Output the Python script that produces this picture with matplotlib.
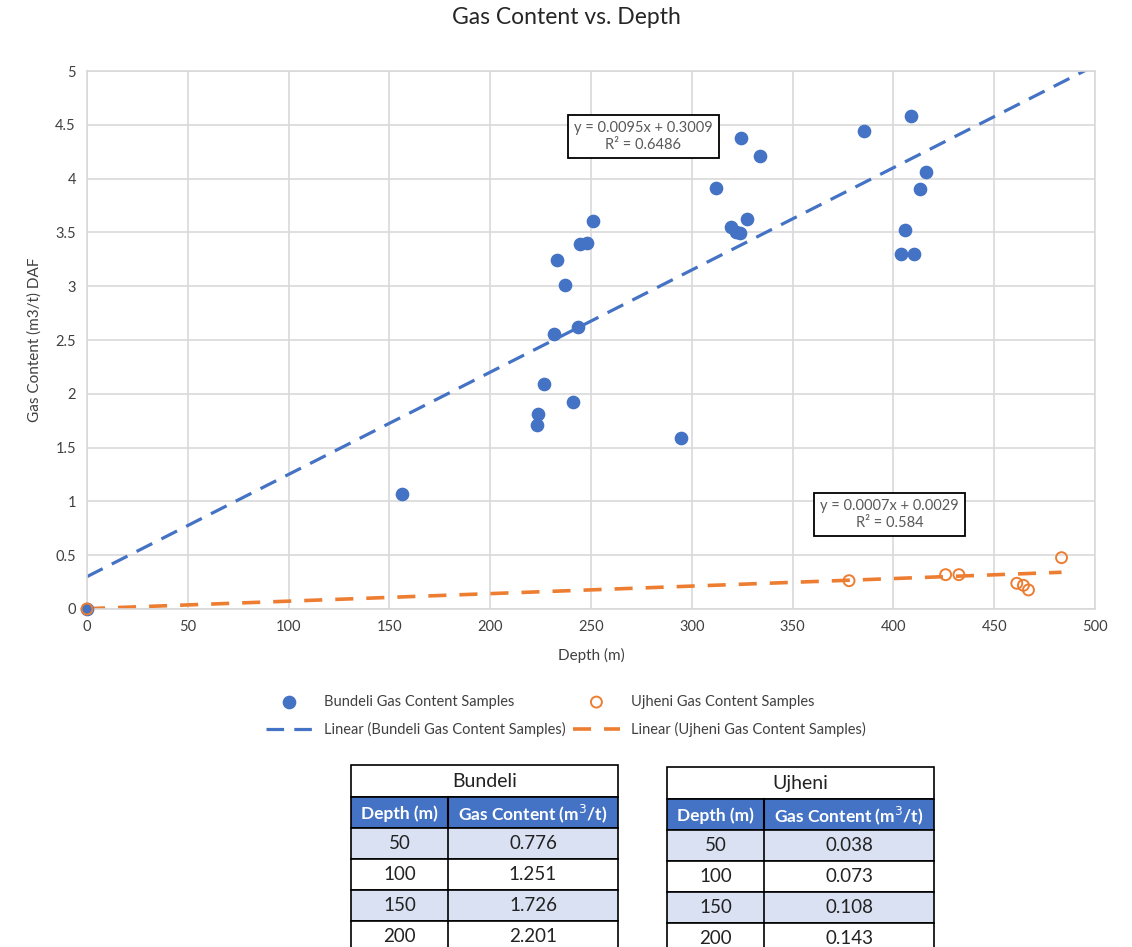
import numpy as np
import matplotlib
matplotlib.use("Agg")
from matplotlib import pyplot as plt
from matplotlib.patches import Rectangle

plt.rcParams['font.family'] = ['Lato', 'DejaVu Sans']

# Bundeli samples (depth m, gas content m3/t DAF)
bundeli_depth = [0, 156.2, 223.4, 223.9, 226.7, 240.9, 231.6, 232.9, 237.1, 243.7,
                 244.5, 248.2, 251.1, 294.6, 312.0, 319.2, 321.9, 323.9, 324.4,
                 327.2, 333.8, 385.6, 403.9, 405.8, 408.5, 410.4, 413.4, 416.4]
bundeli_gas = [0, 1.07, 1.71, 1.81, 2.09, 1.92, 2.56, 3.24, 3.01, 2.62,
               3.39, 3.40, 3.61, 1.59, 3.91, 3.55, 3.50, 3.49, 4.38,
               3.62, 4.21, 4.44, 3.30, 3.52, 4.58, 3.30, 3.90, 4.06]

# Ujheni samples
ujheni_depth = [0, 378.0, 425.9, 432.5, 461.2, 464.5, 467.0, 483.4]
ujheni_gas = [0, 0.263, 0.319, 0.319, 0.239, 0.220, 0.177, 0.477]

# trend lines as reported
b_slope, b_icpt, b_r2 = 0.0095, 0.3009, 0.6486
u_slope, u_icpt, u_r2 = 0.0007, 0.0029, 0.584
b_trend_x = [0, 500]
u_trend_x = [0, 483.4]

# table contents
tbl_depth = [50, 100, 150, 200]
tbl_bundeli = ["0.776", "1.251", "1.726", "2.201"]
tbl_ujheni = ["0.038", "0.073", "0.108", "0.143"]

BLUE = "#4472C4"
ORANGE = "#ED7D31"
GRID = "#D9D9D9"
TXT = "#595959"

fig = plt.figure(figsize=(11.32, 9.47), dpi=100)
ax = fig.add_axes([87/1132, 1-609/947, (1095-87)/1132, (609-71)/947])

ax.scatter(bundeli_depth, bundeli_gas, s=78, color=BLUE, zorder=4, clip_on=False,
           label="Bundeli Gas Content Samples")
ax.scatter(ujheni_depth, ujheni_gas, s=62, facecolors="none", edgecolors=ORANGE,
           linewidths=1.4, zorder=5, clip_on=False, label="Ujheni Gas Content Samples")

bx = np.array(b_trend_x)
ux = np.array(u_trend_x)
ax.plot(bx, b_slope*bx + b_icpt, color=BLUE, lw=2.3, dashes=(5.5, 3.2),
        label="Linear (Bundeli Gas Content Samples)", zorder=2)
ax.plot(ux, u_slope*ux + u_icpt, color=ORANGE, lw=2.6, dashes=(5, 3.6),
        label="Linear (Ujheni Gas Content Samples)", zorder=2)

ax.set_xlim(0, 500)
ax.set_ylim(0, 5)
ax.set_xticks(np.arange(0, 501, 50))
ax.set_yticks(np.arange(0, 5.01, 0.5))
ax.set_yticklabels([f"{v:g}" for v in np.arange(0, 5.01, 0.5)])
ax.grid(True, color=GRID, lw=1.2)
ax.set_axisbelow(True)
for s in ax.spines.values():
    s.set_color(GRID)
    s.set_linewidth(1.2)
ax.tick_params(length=0, labelsize=10.5, colors="#404040", pad=8)
ax.set_xlabel("Depth (m)", fontsize=11, color="#404040", labelpad=10)
ax.set_ylabel("Gas Content (m3/t) DAF", fontsize=11, color="#404040", labelpad=10)
fig.text(0.5, 1-18/947, "Gas Content vs. Depth", ha="center", va="center",
         fontsize=16.5, color="#262626")

box = dict(boxstyle="square,pad=0.4", fc="white", ec="black", lw=1.3)
ax.text(276, 4.39, f"y = {b_slope}x + {b_icpt}\nR² = {b_r2}", ha="center",
        va="center", fontsize=10.5, color=TXT, bbox=box, linespacing=1.25)
ax.text(398, 0.88, f"y = {u_slope}x + {u_icpt}\nR² = {u_r2}", ha="center",
        va="center", fontsize=10.5, color=TXT, bbox=box, linespacing=1.25)

h, l = ax.get_legend_handles_labels()
order = [0, 2, 1, 3]
fig.legend([h[i] for i in order], [l[i] for i in order], ncol=2,
           loc="center", bbox_to_anchor=(0.5, 1-716/947), frameon=False,
           fontsize=10.5, labelcolor="#404040", columnspacing=0.5,
           handlelength=3.2, handletextpad=0.8, labelspacing=0.9)

# tables drawn on an overlay in pixel coordinates
ov = fig.add_axes([0, 0, 1, 1])
ov.set_xlim(0, 1132)
ov.set_ylim(947, 0)
ov.axis("off")


def draw_table(x0, x1, xs, y0, name, values):
    row_h = 31
    ov.add_patch(Rectangle((x0, y0), x1-x0, 32, fc="white", ec="black", lw=1.2))
    ov.text((x0+x1)/2, y0+16, name, ha="center", va="center", fontsize=14,
            color="#222222")
    yh = y0 + 32
    ov.add_patch(Rectangle((x0, yh), x1-x0, row_h, fc=BLUE, ec="black", lw=1.2))
    ov.plot([xs, xs], [yh, yh+row_h], color="black", lw=1.5)
    ov.text((x0+xs)/2, yh+row_h/2+1, "Depth (m)", ha="center", va="center",
            fontsize=12.5, color="white", fontweight="bold")
    ov.text((xs+x1)/2, yh+row_h/2+1, "Gas Content (m$^3$/t)", ha="center",
            va="center", fontsize=12.5, color="white", fontweight="bold")
    for i, (d, v) in enumerate(zip(tbl_depth, values)):
        yr = yh + row_h*(i+1)
        fc = "#D9E1F2" if i % 2 == 0 else "white"
        ov.add_patch(Rectangle((x0, yr), x1-x0, row_h, fc=fc, ec="black", lw=1.2))
        ov.plot([xs, xs], [yr, yr+row_h], color="black", lw=1.2)
        ov.text((x0+xs)/2, yr+row_h/2, str(d), ha="center", va="center",
                fontsize=13.5, color="#222222")
        ov.text((xs+x1)/2, yr+row_h/2, v, ha="center", va="center",
                fontsize=13.5, color="#222222")


draw_table(351, 618, 448, 765, "Bundeli", tbl_bundeli)
draw_table(667, 934, 764, 767, "Ujheni", tbl_ujheni)

fig.savefig("out.png", dpi=100)
